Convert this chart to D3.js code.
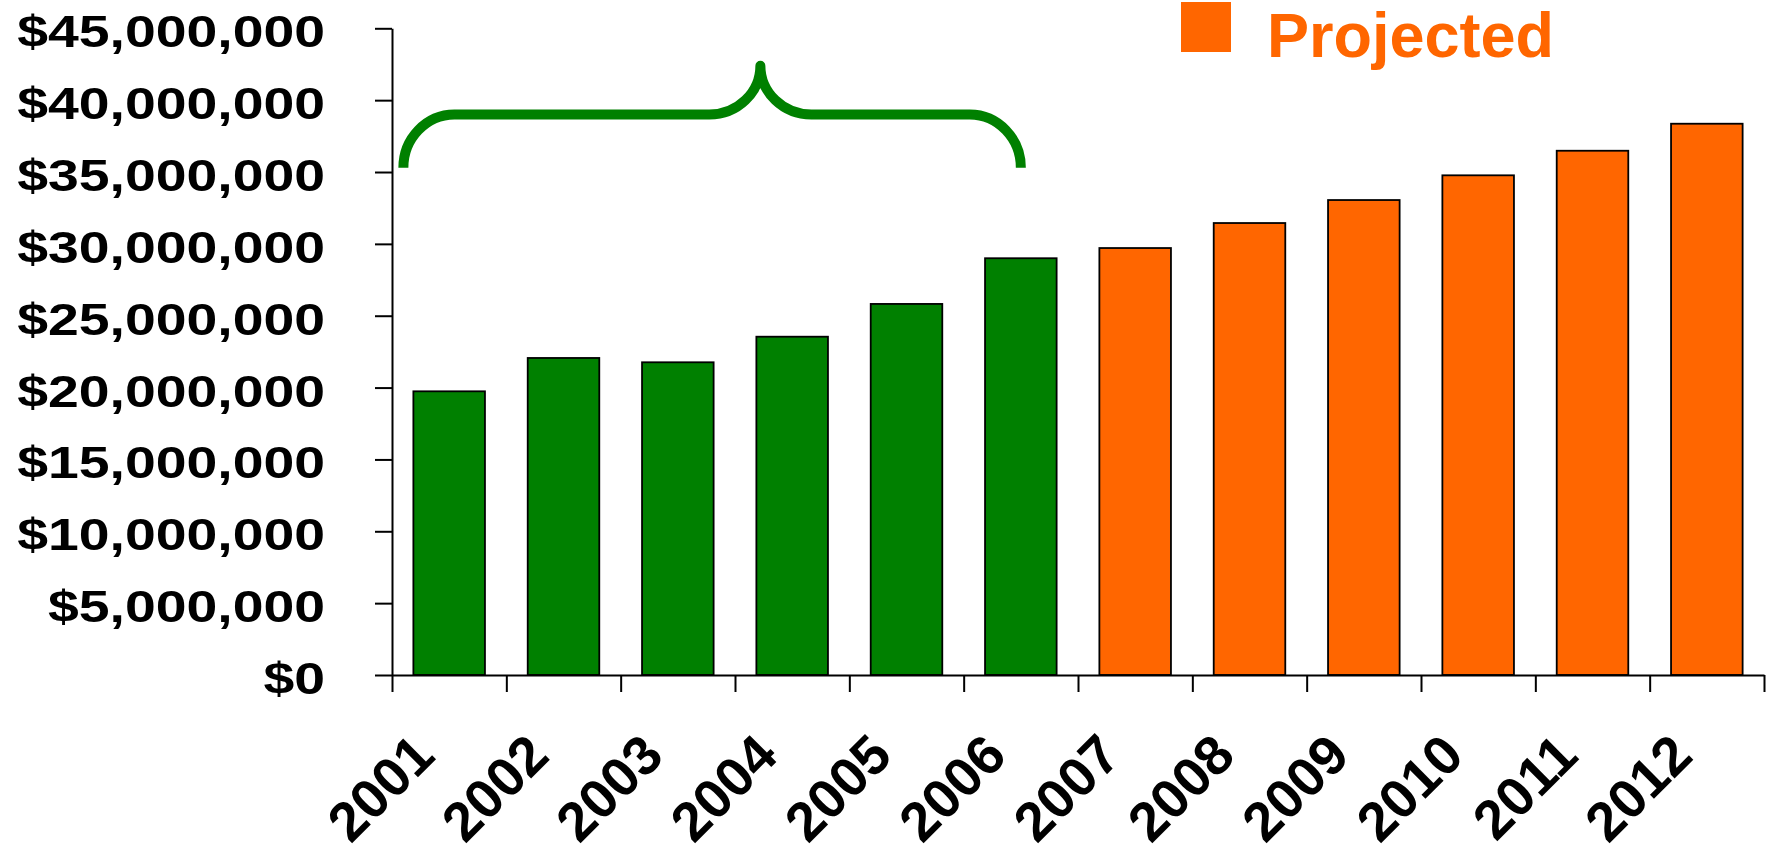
<!DOCTYPE html>
<html>
<head>
<meta charset="utf-8">
<script src="https://cdn.jsdelivr.net/npm/d3@7"></script>
<style>
  body { margin: 0; background: #fff; }
  svg { display: block; font-family: "Liberation Sans", Arial, Helvetica, sans-serif; font-weight: bold; }
</style>
</head>
<body>
<svg id="chart" width="1771" height="846"></svg>
<script>
// Annual revenue, actual (2001–2006) and projected (2007–2012)
const years = ["2001", "2002", "2003", "2004", "2005", "2006",
               "2007", "2008", "2009", "2010", "2011", "2012"];
const revenue = [19.74e6, 22.06e6, 21.76e6, 23.54e6, 25.82e6, 29.0e6,
                 29.71e6, 31.45e6, 33.05e6, 34.77e6, 36.48e6, 38.36e6];
const status = ["actual", "actual", "actual", "actual", "actual", "actual",
                "projected", "projected", "projected", "projected", "projected", "projected"];
const yTicks = [0, 5e6, 10e6, 15e6, 20e6, 25e6, 30e6, 35e6, 40e6, 45e6];
const legendItems = ["Projected"];

const colors = { actual: "#008000", projected: "#FF6600" };

const svg = d3.select("#chart");
const plot = { left: 392, right: 1764, top: 28.3, bottom: 675 };
const textStretch = 1.23;

const x = d3.scaleBand()
  .domain(years)
  .range([plot.left, plot.right])
  .paddingInner(0.374)
  .paddingOuter(0.187);

const y = d3.scaleLinear()
  .domain([0, 45e6])
  .range([plot.bottom, plot.top]);

// Category boundaries for the x-axis tick marks
const edges = d3.scaleLinear()
  .domain([0, years.length])
  .range([plot.left, plot.right]);

// Bars
svg.append("g")
  .selectAll("rect")
  .data(years)
  .join("rect")
  .attr("x", d => x(d))
  .attr("y", (d, i) => y(revenue[i]))
  .attr("width", x.bandwidth())
  .attr("height", (d, i) => y(0) - y(revenue[i]))
  .attr("fill", (d, i) => colors[status[i]])
  .attr("stroke", "#000")
  .attr("stroke-width", 1.8);

// Y axis
const yAxis = svg.append("g")
  .attr("transform", `translate(${plot.left},0)`)
  .call(d3.axisLeft(y)
    .tickValues(yTicks)
    .tickFormat(d => "$" + d3.format(",")(d))
    .tickSize(17)
    .tickSizeOuter(0));
yAxis.select(".domain").attr("stroke", "#000").attr("stroke-width", 2);
yAxis.selectAll(".tick line").attr("stroke", "#000").attr("stroke-width", 2);
yAxis.selectAll(".tick text")
  .attr("font-size", 45)
  .attr("font-weight", "bold")
  .attr("font-family", "Liberation Sans, Arial, sans-serif")
  .attr("fill", "#000")
  .attr("x", -67 / textStretch)
  .attr("dy", "0.41em")
  .attr("transform", `scale(${textStretch},1)`);

// X axis (ticks on category boundaries)
const xAxis = svg.append("g")
  .attr("transform", `translate(0,${plot.bottom})`)
  .call(d3.axisBottom(edges)
    .tickValues(d3.range(0, years.length + 1))
    .tickFormat("")
    .tickSize(17)
    .tickSizeOuter(0));
xAxis.select(".domain").attr("stroke", "#000").attr("stroke-width", 2);
xAxis.selectAll(".tick line").attr("stroke", "#000").attr("stroke-width", 2);

// Year labels, rotated
svg.append("g")
  .selectAll("text")
  .data(years)
  .join("text")
  .attr("transform", d => `translate(${x(d) + x.bandwidth() / 2 - 12},${plot.bottom + 83}) rotate(-45)`)
  .attr("text-anchor", "end")
  .attr("font-size", 55)
  .attr("fill", "#000")
  .text(d => d);

// Brace over the actual years
const bx0 = x("2001") - 10;
const bx1 = x("2006") + x.bandwidth() / 2;
const bxc = x("2004") + 4;
const byEnd = y(35.3e6);
const byBar = y(39.0e6);
const byTop = y(42.4e6);
const r = 51;
const brace = d3.path();
brace.moveTo(bx0, byEnd);
brace.bezierCurveTo(bx0, byEnd - (byEnd - byBar) * 0.55, bx0 + r * 0.45, byBar, bx0 + r, byBar);
brace.lineTo(bxc - r, byBar);
brace.bezierCurveTo(bxc - r * 0.45, byBar, bxc, byBar - (byBar - byTop) * 0.45, bxc, byTop);
brace.bezierCurveTo(bxc, byBar - (byBar - byTop) * 0.45, bxc + r * 0.45, byBar, bxc + r, byBar);
brace.lineTo(bx1 - r, byBar);
brace.bezierCurveTo(bx1 - r * 0.45, byBar, bx1, byEnd - (byEnd - byBar) * 0.55, bx1, byEnd);
svg.append("path")
  .attr("d", brace.toString())
  .attr("fill", "none")
  .attr("stroke", colors.actual)
  .attr("stroke-width", 10)
  .attr("stroke-linejoin", "round");

// Legend
const legend = svg.append("g").attr("transform", "translate(1181,2)");
legend.selectAll("rect")
  .data(legendItems)
  .join("rect")
  .attr("width", 50)
  .attr("height", 50)
  .attr("fill", colors.projected);
legend.selectAll("text")
  .data(legendItems)
  .join("text")
  .attr("x", 86)
  .attr("y", 55.3)
  .attr("font-size", 63)
  .attr("fill", colors.projected)
  .text(d => d);
</script>
</body>
</html>
